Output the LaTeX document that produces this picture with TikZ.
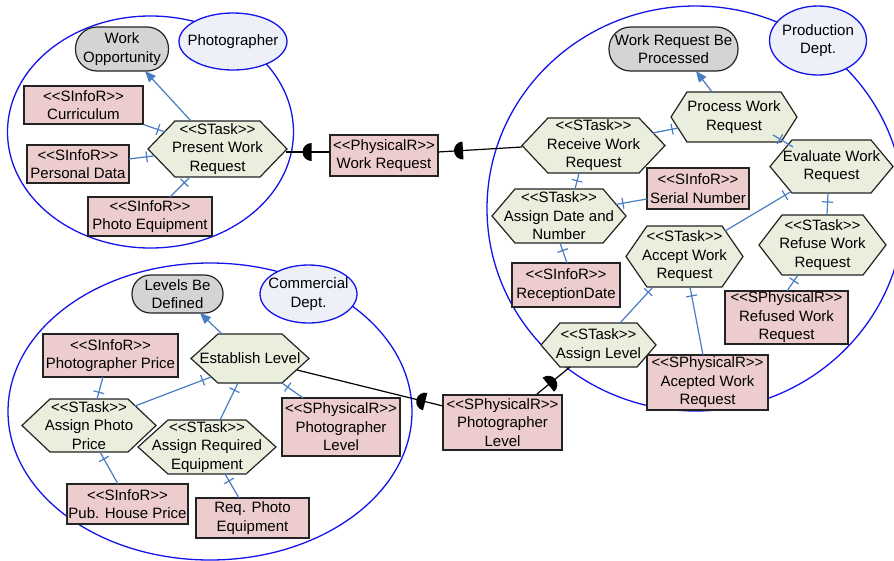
\documentclass[tikz,border=0pt]{standalone}
\usepackage{fontspec}
\newfontfamily\dfont{Liberation Sans}
\usetikzlibrary{arrows.meta,decorations.markings,shapes.geometric}

\definecolor{resfill}{RGB}{236,204,204}
\definecolor{taskfill}{RGB}{234,238,221}
\definecolor{goalfill}{RGB}{212,212,212}
\definecolor{actorfill}{RGB}{237,240,249}
\definecolor{groupline}{RGB}{20,20,235}
\definecolor{linkblue}{RGB}{72,125,196}
\definecolor{edgegray}{RGB}{35,35,35}

\tikzset{
  lbl/.style={font=\dfont\fontsize{15}{18.5}\selectfont, align=center, inner sep=0pt, text=black},
  res/.style={lbl, rectangle, draw=edgegray, line width=1.2pt, fill=resfill},
  goal/.style={lbl, rectangle, draw=edgegray, line width=1.2pt, fill=goalfill},
  actor/.style={lbl, ellipse, draw=groupline, line width=1.3pt, fill=actorfill, inner xsep=-25pt, inner ysep=-10pt},
  hexa/.style={draw=edgegray, line width=1.2pt, fill=taskfill},
  group/.style={draw=groupline, line width=1.3pt},
  link/.style={draw=linkblue, line width=1.2pt},
  goallink/.style={link, -{Triangle[length=11pt,width=9pt]}},
  flow/.style={draw=black, line width=1.2pt},
  tk/.style={postaction={decorate,decoration={markings,
      mark=at position -#1 with {\draw[linkblue,line width=1.2pt] (0pt,-5.5pt) -- (0pt,5.5pt);}}}},
  hd/.style={postaction={decorate,decoration={markings,
      mark=at position #1 with {\fill[black] (0pt,-9pt) arc[start angle=-90,end angle=-270,radius=9pt] -- cycle;}}}},
}

% task hexagon: name, x, y (downwards), width, height, slant, text
\newcommand\stask[7]{%
  \filldraw[hexa] ({#2-#4/2},{-#3}) -- ({#2-#4/2+#6},{-#3+#5/2}) -- ({#2+#4/2-#6},{-#3+#5/2})
    -- ({#2+#4/2},{-#3}) -- ({#2+#4/2-#6},{-#3-#5/2}) -- ({#2-#4/2+#6},{-#3-#5/2}) -- cycle;
  \node[lbl] (#1) at (#2,-#3) {#7};}

\begin{document}
\begin{tikzpicture}[x=1pt,y=1pt]
\useasboundingbox (0,0) rectangle (894,-560);
\fill[white] (0,0) rectangle (894,-560);

% actor boundaries
\draw[group] (150.5,-132) ellipse [x radius=143pt, y radius=116pt];
\draw[group] (695.5,-208.5) ellipse [x radius=208.5pt, y radius=202.5pt];
\draw[group] (210,-411.5) ellipse [x radius=202pt, y radius=148.5pt];

% actors
\node[actor, minimum width=108pt, minimum height=57pt] (photog) at (233,-41.5) {Photographer};
\node[actor, minimum width=97pt, minimum height=69pt] (prod) at (818,-40.5) {Production\\Dept.};
\node[actor, minimum width=97pt, minimum height=58pt] (comm) at (308.5,-294) {Commercial\\Dept.};

% goals
\node[goal, minimum width=93pt, minimum height=44pt, rounded corners=21.5pt] (workopp) at (122,-49) {Work\\Opportunity};
\node[goal, minimum width=129pt, minimum height=44pt, rounded corners=21.5pt] (wrbp) at (673.5,-49) {Work Request Be\\Processed};
\node[goal, minimum width=91pt, minimum height=38pt, rounded corners=18.5pt] (lbd) at (177.5,-294) {Levels Be\\Defined};

% resources
\node[res, minimum width=119pt, minimum height=38pt] (cur) at (83.5,-105) {<<SInfoR>>\\Curriculum};
\node[res, minimum width=102pt, minimum height=38pt] (pd) at (78,-164) {<<SInfoR>>\\Personal Data};
\node[res, minimum width=124pt, minimum height=39pt] (pe) at (150,-216.5) {<<SInfoR>>\\Photo Equipment};
\node[res, minimum width=108pt, minimum height=41pt] (wr) at (384,-155.5) {<<PhysicalR>>\\Work Request};
\node[res, minimum width=102pt, minimum height=41pt] (sn) at (698,-188.5) {<<SInfoR>>\\Serial Number};
\node[res, minimum width=108pt, minimum height=44pt] (rd) at (566,-285) {<<SInfoR>>\\ReceptionDate};
\node[res, minimum width=123pt, minimum height=53pt] (refd) at (786.5,-317.5) {<<SPhysicalR>>\\Refused Work\\Request};
\node[res, minimum width=121pt, minimum height=55pt] (accd) at (707.5,-382.5) {<<SPhysicalR>>\\Acepted Work\\Request};
\node[res, minimum width=119pt, minimum height=55pt] (pl) at (502.5,-422.5) {<<SPhysicalR>>\\Photographer\\Level};
\node[res, minimum width=135pt, minimum height=43pt] (pp) at (110.5,-355.5) {<<SInfoR>>\\Photographer Price};
\node[res, minimum width=118pt, minimum height=58pt] (plc) at (341,-427) {<<SPhysicalR>>\\Photographer\\Level};
\node[res, minimum width=121pt, minimum height=40pt] (phs) at (127.5,-504) {<<SInfoR>>\\Pub. House Price};
\node[res, minimum width=113pt, minimum height=40pt] (rpe) at (252.5,-518) {Req. Photo\\Equipment};

% tasks
\stask{pwr}{217.5}{149}{139}{56}{27}{<<STask>>\\Present Work\\Request}
\stask{proc}{734}{117}{126}{50}{16}{Process Work\\Request}
\stask{recv}{593.5}{145.5}{143}{55}{26}{<<STask>>\\Receive Work\\Request}
\stask{eval}{831.5}{166.5}{123}{53}{22}{Evaluate Work\\Request}
\stask{adn}{559}{216}{134}{54}{23}{<<STask>>\\Assign Date and\\Number}
\stask{acc}{684.5}{256.5}{117}{61}{21}{<<STask>>\\Accept Work\\Request}
\stask{ref}{822.5}{245}{127}{60}{23}{<<STask>>\\Refuse Work\\Request}
\stask{al}{598.5}{345}{115}{44}{19}{<<STask>>\\Assign Level}
\stask{estl}{250}{358.5}{118}{49}{27}{Establish Level}
\stask{app}{89}{425.5}{134}{53}{28}{<<STask>>\\Assign Photo\\Price}
\stask{are}{207}{447}{138}{54}{30}{<<STask>>\\Assign Required\\Equipment}

% photographer links
\draw[goallink] ([shift={(-26.5,28)}]pwr.center) -- ([shift={(23,-22)}]workopp.center);
\draw[link,tk=7pt] (cur.south east) -- ([shift={(-52.9,17.2)}]pwr.center);
\draw[link,tk=8pt] ([shift={(51,5)}]pd.center) -- ([shift={(-62.9,-6.8)}]pwr.center);
\draw[link,tk=8pt] ([shift={(20,19.5)}]pe.center) -- ([shift={(-27.5,-28)}]pwr.center);

% physical flows
\draw[flow,hd=26pt] ([shift={(68,-3)}]pwr.center) -- ([shift={(-54,3.5)}]wr.center);
\draw[flow,hd=25pt] ([shift={(54,3.5)}]wr.center) -- ([shift={(-71.5,-1.5)}]recv.center);
\draw[flow,hd=28pt] ([shift={(-28.5,-22)}]al.center) -- ([shift={(34.5,28.5)}]pl.center);
\draw[flow,hd=132pt] ([shift={(47,-11.5)}]estl.center) -- ([shift={(-59.5,16.5)}]pl.center);

% production links
\draw[goallink] ([shift={(-22,25)}]proc.center) -- ([shift={(22.5,-22)}]wrbp.center);
\draw[link,tk=6pt] ([shift={(59.5,12.5)}]recv.center) -- ([shift={(-56,-11)}]proc.center);
\draw[link,tk=8pt] ([shift={(-38.5,19.5)}]eval.center) -- ([shift={(39,-18)}]proc.center);
\draw[link,tk=8pt] ([shift={(16,27)}]adn.center) -- ([shift={(-14.5,-27.5)}]recv.center);
\draw[link,tk=7pt] ([shift={(-51,-10.5)}]sn.center) -- ([shift={(57,11.6)}]adn.center);
\draw[link,tk=7pt] ([shift={(40.5,25.5)}]acc.center) -- ([shift={(-40.5,-25.1)}]eval.center);
\draw[link,tk=9pt] ([shift={(4.5,30)}]ref.center) -- ([shift={(-3.5,-26.5)}]eval.center);
\draw[link,tk=7pt] ([shift={(0.5,26.5)}]refd.center) -- ([shift={(-24.5,-30)}]ref.center);
\draw[link,tk=8pt] ([shift={(1,22)}]rd.center) -- ([shift={(1,-27)}]adn.center);
\draw[link,tk=7pt] ([shift={(21.5,22)}]al.center) -- ([shift={(-31.5,-30.5)}]acc.center);
\draw[link,tk=9pt] ([shift={(-4.5,27.5)}]accd.center) -- ([shift={(5.5,-30.5)}]acc.center);

% commercial links
\draw[goallink] ([shift={(-28,24.5)}]estl.center) -- ([shift={(22.5,-19)}]lbd.center);
\draw[link,tk=7pt] ([shift={(-7.5,-21.5)}]pp.center) -- ([shift={(8,26.5)}]app.center);
\draw[link,tk=9pt] ([shift={(46,19.5)}]app.center) -- ([shift={(-39,-18.5)}]estl.center);
\draw[link,tk=8pt] ([shift={(13,27)}]are.center) -- ([shift={(-12,-24.5)}]estl.center);
\draw[link,tk=7pt] ([shift={(-38,29)}]plc.center) -- ([shift={(32,-24.5)}]estl.center);
\draw[link,tk=8pt] ([shift={(-9.5,20)}]phs.center) -- ([shift={(11,-26.5)}]app.center);
\draw[link,tk=8pt] ([shift={(-13.5,20)}]rpe.center) -- ([shift={(18,-27)}]are.center);
\end{tikzpicture}
\end{document}
